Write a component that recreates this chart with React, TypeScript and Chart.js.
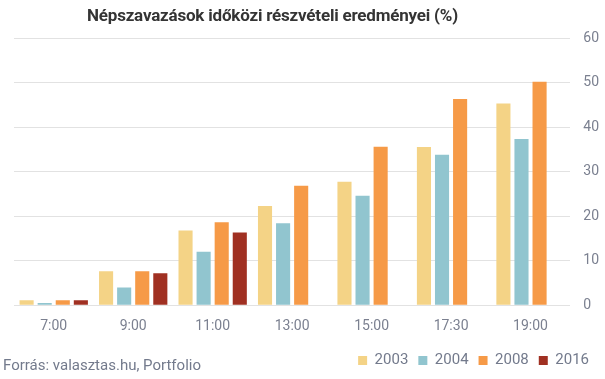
import React, { useEffect, useRef } from "react";
import { Chart, registerables } from "chart.js";

Chart.register(...registerables);

const categories = ["7:00", "9:00", "11:00", "13:00", "15:00", "17:30", "19:00"];
const series2003 = [1.1, 7.6, 16.8, 22.3, 27.7, 35.5, 45.3];
const series2004 = [0.5, 4.0, 12.0, 18.4, 24.6, 33.8, 37.3];
const series2008 = [1.1, 7.6, 18.6, 26.8, 35.6, 46.3, 50.2];
const series2016: (number | null)[] = [1.1, 7.2, 16.3, null, null, null, null];
const yTicks = [0, 10, 20, 30, 40, 50, 60];

const TEXT_GRAY = "#7b8090";
const LEGEND_GRAY = "#737a8c";

export default function App() {
  const ref = useRef<HTMLCanvasElement | null>(null);
  useEffect(() => {
    if (!ref.current) return;
    const chart = new Chart(ref.current, {
      type: "bar",
      data: {
        labels: categories,
        datasets: [
          { label: "2003", data: series2003, backgroundColor: "#F4D386" },
          { label: "2004", data: series2004, backgroundColor: "#91C5CF" },
          { label: "2008", data: series2008, backgroundColor: "#F69A47" },
          { label: "2016", data: series2016, backgroundColor: "#A03022" },
        ],
      },
      options: {
        animation: false,
        responsive: false,
        maintainAspectRatio: false,
        datasets: { bar: { categoryPercentage: 0.91, barPercentage: 0.78 } },
        layout: { padding: { top: 38, left: 14, right: 6, bottom: 1 } },
        plugins: {
          title: { display: false },
          tooltip: { enabled: false },
          legend: {
            position: "bottom",
            align: "end",
            labels: {
              boxWidth: 9,
              boxHeight: 9,
              padding: 10,
              color: LEGEND_GRAY,
              font: { family: "Roboto", size: 15 },
            },
          },
        },
        scales: {
          x: {
            grid: { display: false },
            border: { display: false },
            ticks: {
              color: TEXT_GRAY,
              font: { family: "Roboto", size: 14 },
              padding: 5,
            },
            afterFit: (axis: any) => {
              axis.height += 3;
            },
          },
          y: {
            position: "right",
            min: 0,
            max: 60,
            afterBuildTicks: (axis: any) => {
              axis.ticks = yTicks.map((v) => ({ value: v }));
            },
            afterFit: (axis: any) => {
              axis.width -= 13;
            },
            grid: { color: "#e2e2e2", lineWidth: 1, drawTicks: false },
            border: { display: false },
            ticks: {
              color: TEXT_GRAY,
              font: { family: "Roboto", size: 14 },
              padding: 13,
            },
          },
        },
      },
    });
    return () => chart.destroy();
  }, []);

  return (
    <div style={{ position: "fixed", left: 0, top: 0, width: 605, height: 379, background: "#fff" }}>
      <canvas ref={ref} width={605} height={379} style={{ position: "absolute", left: 0, top: 0 }} />
      <div
        style={{
          position: "absolute",
          left: 87,
          top: 5,
          fontFamily: "Roboto",
          fontWeight: 700,
          fontSize: 17,
          letterSpacing: -0.2,
          color: "#343434",
          whiteSpace: "nowrap",
        }}
      >
        Népszavazások időközi részvételi eredményei (%)
      </div>
      <div
        style={{
          position: "absolute",
          left: 3,
          top: 356,
          fontFamily: "Roboto",
          fontSize: 15,
          color: LEGEND_GRAY,
          whiteSpace: "nowrap",
        }}
      >
        Forrás: valasztas.hu, Portfolio
      </div>
    </div>
  );
}
